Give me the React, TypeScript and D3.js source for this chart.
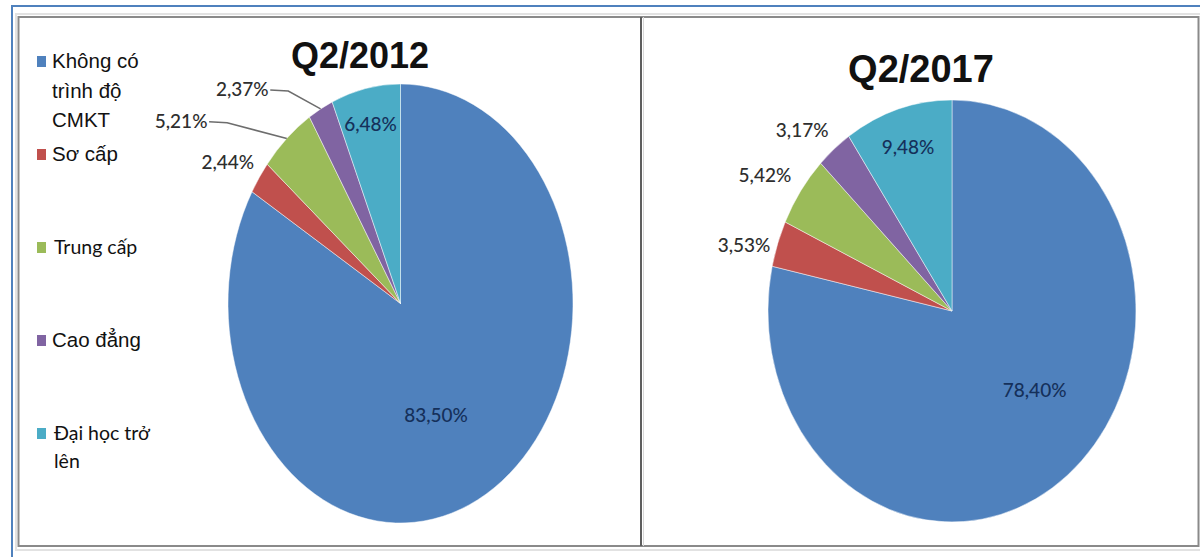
import React from "react";
import * as d3 from "d3";

const categories = ["Không có trình độ CMKT", "Sơ cấp", "Trung cấp", "Cao đẳng", "Đại học trở lên"];
const legendLines = [["Không có", "trình độ", "CMKT"], ["Sơ cấp"], ["Trung cấp"], ["Cao đẳng"], ["Đại học trở", "lên"]];
const legendCalibri = [false, false, true, false, true];
const colors = ["#4F81BD", "#C0504D", "#9BBB59", "#8064A2", "#4BACC6"];

const titles = ["Q2/2012", "Q2/2017"];
const values2012 = [83.5, 2.44, 5.21, 2.37, 6.48];
const values2017 = [78.4, 3.53, 5.42, 3.17, 9.48];
const labels2012 = ["83,50%", "2,44%", "5,21%", "2,37%", "6,48%"];
const labels2017 = ["78,40%", "3,53%", "5,42%", "3,17%", "9,48%"];

// label layout: [angle in degrees clockwise from top, radial factor]
const layout2012: [number, number][] = [[158, 0.55], [302.7, 1.19], [303.2, 1.52], [316.8, 1.34], [348, 0.836]];
const layout2017: [number, number][] = [[130, 0.586], [285.5, 1.173], [302.4, 1.204], [316.5, 1.183], [342.9, 0.813]];
const leaders2012 = [false, false, true, true, false];
const leaders2017 = [false, false, false, false, false];
const inside = [true, false, false, false, true];

type PieProps = {
  values: number[];
  labels: string[];
  layout: [number, number][];
  leaders: boolean[];
  title: string;
  cx: number;
  cy: number;
  rx: number;
  ry: number;
  tx: number;
  ty: number;
  tsize: number;
};

function Pie({ values, labels, layout, leaders, title, cx, cy, rx, ry, tx, ty, tsize }: PieProps) {
  const pie = d3.pie<number>().sort(null).value((d) => d)(values);
  const arc = d3.arc<d3.PieArcDatum<number>>().innerRadius(0).outerRadius(ry);
  const pt = (angDeg: number, k: number) => {
    const a = (angDeg * Math.PI) / 180;
    return [cx + k * rx * Math.sin(a), cy - k * ry * Math.cos(a)];
  };
  return (
    <g>
      <g transform={`translate(${cx},${cy}) scale(${rx / ry},1)`}>
        {pie.map((p, i) => (
          <path
            key={i}
            d={arc(p) || ""}
            fill={colors[i]}
            stroke="#ffffff"
            strokeOpacity={0.6}
            strokeWidth={0.8}
            vectorEffect="non-scaling-stroke"
          />
        ))}
      </g>
      {pie.map((p, i) => {
        const [lx, ly] = pt(layout[i][0], layout[i][1]);
        const el = [] as React.ReactNode[];
        if (leaders[i]) {
          const mid = (((p.startAngle + p.endAngle) / 2) * 180) / Math.PI;
          const [ex, ey] = pt(mid, 1.0);
          const sx = lx + 28;
          el.push(
            <polyline
              key={"l" + i}
              points={`${sx},${ly + 1} ${sx + 18},${ly + 2} ${ex},${ey}`}
              fill="none"
              stroke="#6d6d6d"
              strokeWidth={1.5}
            />
          );
        }
        el.push(
          <text
            key={"t" + i}
            x={lx}
            y={ly}
            dy="0.36em"
            textAnchor="middle"
            fontFamily="Lato, 'Open Sans', sans-serif"
            fontSize={19}
            fontWeight={500}
            fill={inside[i] ? "#15305a" : "#2e2e2e"}
          >
            {labels[i]}
          </text>
        );
        return <g key={i}>{el}</g>;
      })}
      <text
        x={tx}
        y={ty}
        textAnchor="middle"
        fontFamily="'Liberation Sans', Arial, sans-serif"
        fontWeight="bold"
        fontSize={tsize}
        fill="#111"
      >
        {title}
      </text>
    </g>
  );
}

export default function App() {
  const legendY = d3.scalePoint<string>().domain(categories).range([68, 440]);
  return (
    <svg width={1200} height={557} style={{ position: "absolute", left: 0, top: 0, background: "#fff" }}>
      <rect x={0} y={0} width={1200} height={557} fill="#ffffff" />
      {/* outer blue frame */}
      <line x1={12} y1={6} x2={1200} y2={6} stroke="#4F81BD" strokeWidth={2} />
      <line x1={12} y1={5} x2={12} y2={557} stroke="#4F81BD" strokeWidth={2} />
      {/* panels */}
      <rect x={16} y={14} width={1186} height={536} fill="none" stroke="#e2e2e2" strokeWidth={2} />
      <rect x={18.5} y={17} width={1180} height={529} fill="none" stroke="#8a8a8a" strokeWidth={2} />
      <line x1={641} y1={17} x2={641} y2={546} stroke="#5e5e5e" strokeWidth={2} />
      <line x1={643.5} y1={17} x2={643.5} y2={546} stroke="#d8d8d8" strokeWidth={1} />

      {/* legend */}
      {categories.map((c, i) => {
        const y0 = legendY(c) as number;
        const calibri = legendCalibri[i];
        return (
          <g key={c}>
            <rect x={37} y={y0 - 12} width={9} height={11} fill={colors[i]} />
            {legendLines[i].map((t, j) => (
              <text
                key={j}
                x={calibri ? 54 : 52}
                y={y0 + j * (calibri ? 28 : 29.5)}
                fontFamily={calibri ? "Lato, sans-serif" : "'Liberation Sans', Arial, sans-serif"}
                fontSize={calibri ? 19.5 : 20.5}
                fill="#111"
              >
                {t}
              </text>
            ))}
          </g>
        );
      })}

      <Pie
        values={values2012}
        labels={labels2012}
        layout={layout2012}
        leaders={leaders2012}
        title={titles[0]}
        cx={400.5}
        cy={303.5}
        rx={172.5}
        ry={219.5}
        tx={360}
        ty={68}
        tsize={36}
      />
      <Pie
        values={values2017}
        labels={labels2017}
        layout={layout2017}
        leaders={leaders2017}
        title={titles[1]}
        cx={952}
        cy={311}
        rx={184}
        ry={211}
        tx={921}
        ty={82}
        tsize={38}
      />
    </svg>
  );
}
